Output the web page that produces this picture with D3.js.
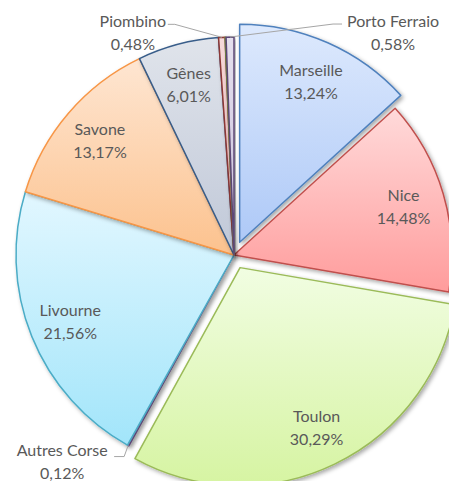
<!DOCTYPE html>
<html>
<head>
<meta charset="utf-8">
<script src="https://cdn.jsdelivr.net/npm/d3@7/dist/d3.min.js"></script>
<style>
  body { margin: 0; background: #fff; }
  svg { display: block; font-family: Lato, "Open Sans", sans-serif; }
</style>
</head>
<body>
<script>
// data (percent of total)
const ports = ["Marseille", "Nice", "Toulon", "Autres Corse", "Livourne", "Savone", "Gênes", "Piombino", "", "Porto Ferraio"];
const shares = [13.24, 14.48, 30.29, 0.12, 21.56, 13.17, 6.01, 0.48, 0.07, 0.58];
const pctLabels = ["13,24%", "14,48%", "30,29%", "0,12%", "21,56%", "13,17%", "6,01%", "0,48%", "", "0,58%"];
const exploded = ["Marseille", "Toulon"];

const width = 449;
const height = 481;
const cx = 234, cy = 255;
const radius = 218;
const explodeDist = 14;

// excel-ish palette: outline, gradient top, gradient bottom
const strokes = ["#4f81bd", "#c0504d", "#9bbb59", "#8064a2", "#4bacc6", "#f79646", "#385d8a", "#8c3836", "#71893f", "#5c4776"];
const fillTop = ["#dde9fd", "#ffdada", "#f1fde2", "#e4dcf0", "#e2f7ff", "#fee6d2", "#e0e4eb", "#f6dada", "#eaf3db", "#e5e0ee"];
const fillBot = ["#aec9f7", "#ff9c9c", "#d6f4a2", "#c9b8e0", "#a2e5fa", "#fcc28e", "#c0c8d8", "#e8b0b0", "#d0e3b0", "#c8bedb"];

// label placement for the small slices that get leader lines (offset from arc edge point)
const outside = {
    "Piombino":      { label: [-89, -5],  elbow: [-47, -13], end: [-54, -13] },
    "Porto Ferraio": { label: [163, -5],  elbow: [103, -13], end: [112, -13] },
    "Autres Corse":  { label: [-66, 15],  elbow: [-4, 11],  end: [-14, 11] }
};

const data = ports.map((p, i) => ({ port: p, value: shares[i], pct: pctLabels[i], idx: i }));

const pie = d3.pie().value(d => d.value).sort(null);
const arcs = pie(data);

const arc = d3.arc().innerRadius(0).outerRadius(radius);
const labelArc = d3.arc().innerRadius(radius * 0.81).outerRadius(radius * 0.81);
const edgeArc = d3.arc().innerRadius(radius).outerRadius(radius);

function offsetOf(d) {
    if (!exploded.includes(d.data.port)) return [0, 0];
    const a = (d.startAngle + d.endAngle) / 2;
    return [Math.sin(a) * explodeDist, -Math.cos(a) * explodeDist];
}

const svg = d3.select("body")
    .append("svg")
    .attr("width", width)
    .attr("height", height);

const defs = svg.append("defs");

// soft shadow like excel's outer shadow
const filter = defs.append("filter")
    .attr("id", "shadow")
    .attr("x", "-10%").attr("y", "-10%")
    .attr("width", "130%").attr("height", "130%");
filter.append("feDropShadow")
    .attr("dx", 2).attr("dy", 2)
    .attr("stdDeviation", 2)
    .attr("flood-color", "#000")
    .attr("flood-opacity", 0.35);

data.forEach((d, i) => {
    const g = defs.append("linearGradient")
        .attr("id", "grad" + i)
        .attr("x1", 0).attr("y1", 0)
        .attr("x2", 0).attr("y2", 1);
    g.append("stop").attr("offset", "0%").attr("stop-color", fillTop[i]);
    g.append("stop").attr("offset", "100%").attr("stop-color", fillBot[i]);
});

const pieG = svg.append("g")
    .attr("transform", `translate(${cx}, ${cy})`);

pieG.selectAll("path.slice")
    .data(arcs)
    .enter()
    .append("path")
        .attr("class", "slice")
        .attr("transform", d => `translate(${offsetOf(d)})`)
        .attr("d", arc)
        .attr("fill", d => `url(#grad${d.data.idx})`)
        .attr("stroke", d => strokes[d.data.idx])
        .attr("stroke-width", 1.5)
        .attr("stroke-linejoin", "round")
        .attr("filter", "url(#shadow)");

const textColor = "#595959";
const lineGap = 11.5;
const fontSize = "16px";

// labels inside the big slices
const inside = arcs.filter(d => d.data.port && !outside[d.data.port]);
const inG = pieG.selectAll("g.lbl")
    .data(inside)
    .enter()
    .append("g")
        .attr("class", "lbl")
        .attr("transform", d => {
            const c = labelArc.centroid(d);
            const o = offsetOf(d);
            return `translate(${c[0] + o[0]}, ${c[1] + o[1]})`;
        });

inG.append("text")
    .attr("y", -lineGap)
    .attr("text-anchor", "middle")
    .attr("dominant-baseline", "central")
    .attr("fill", textColor)
    .style("font-size", fontSize)
    .text(d => d.data.port);
inG.append("text")
    .attr("y", lineGap)
    .attr("text-anchor", "middle")
    .attr("dominant-baseline", "central")
    .attr("fill", textColor)
    .style("font-size", fontSize)
    .text(d => d.data.pct);

// small slices: labels outside with leader lines
const outs = arcs.filter(d => outside[d.data.port]);
outs.forEach(d => {
    const p = edgeArc.centroid(d);
    const o = outside[d.data.port];
    pieG.append("polyline")
        .attr("points", [p, [p[0] + o.elbow[0], p[1] + o.elbow[1]], [p[0] + o.end[0], p[1] + o.end[1]]].map(q => q.join(",")).join(" "))
        .attr("fill", "none")
        .attr("stroke", "#a6a6a6")
        .attr("stroke-width", 1);
    const lx = p[0] + o.label[0], ly = p[1] + o.label[1];
    pieG.append("text")
        .attr("x", lx).attr("y", ly - lineGap)
        .attr("text-anchor", "middle")
        .attr("dominant-baseline", "central")
        .attr("fill", textColor)
        .style("font-size", fontSize)
        .text(d.data.port);
    pieG.append("text")
        .attr("x", lx).attr("y", ly + lineGap)
        .attr("text-anchor", "middle")
        .attr("dominant-baseline", "central")
        .attr("fill", textColor)
        .style("font-size", fontSize)
        .text(d.data.pct);
});
</script>
</body>
</html>
